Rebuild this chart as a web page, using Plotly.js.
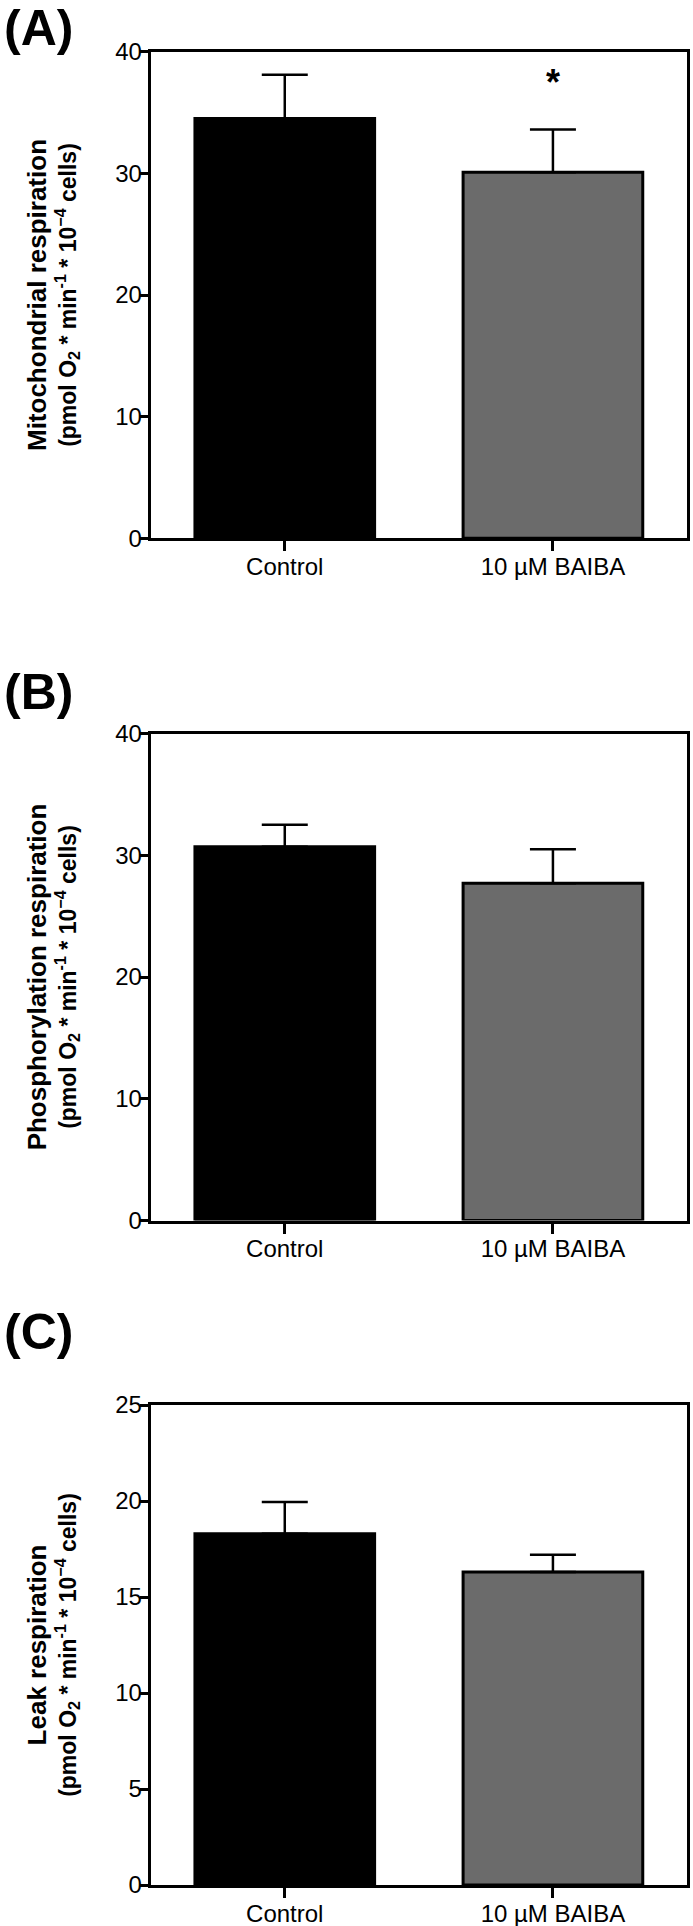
<!DOCTYPE html>
<html>
<head>
<meta charset="utf-8">
<script src="https://cdn.plot.ly/plotly-3.0.1.min.js"></script>
<style>html,body{margin:0;padding:0;background:#fff;}#chart{width:693px;height:1926px;}</style>
</head>
<body>
<div id="chart"></div>
<script>
// ---- data ----
const categories = ['Control', '10 µM BAIBA'];
const mitoMean = [34.5, 30.1];
const mitoSem  = [3.6, 3.5];
const phosMean = [30.7, 27.7];
const phosSem  = [1.8, 2.8];
const leakMean = [18.3, 16.3];
const leakSem  = [1.65, 0.9];
const sigLabel = ['', '*'];
const sigY     = [null, 37.9];
const panelLabels = ['(A)', '(B)', '(C)'];
const yTitlesTop = ['Mitochondrial respiration', 'Phosphorylation respiration', 'Leak respiration'];
const yTitleUnits = '(pmol O<sub>2</sub> * min<sup>-1</sup> * 10<sup>\u22124</sup> cells)';
const yRanges = [[0, 40], [0, 40], [0, 25]];
const yDticks = [10, 10, 5];

// ---- style ----
const FONT = 'Liberation Sans, Arial, Helvetica, sans-serif';
const barColors = ['#000000', '#6b6b6b'];
const W = 693, H = 1926;
const xDom = [150.7 / W, 687 / W];
const yDoms = [
  [1 - 538.3 / H, 1 - 51.7 / H],
  [1 - 1220.5 / H, 1 - 733.5 / H],
  [1 - 1885 / H, 1 - 1405 / H]
];
const labelY = [28, 692, 1332];

const series = [[mitoMean, mitoSem], [phosMean, phosSem], [leakMean, leakSem]];
const traces = series.map((s, i) => ({
  type: 'bar',
  x: categories,
  y: s[0],
  xaxis: i === 0 ? 'x' : 'x' + (i + 1),
  yaxis: i === 0 ? 'y' : 'y' + (i + 1),
  width: 0.67,
  marker: { color: barColors, line: { color: '#000000', width: 3 } },
  error_y: {
    type: 'data', symmetric: false, array: s[1], arrayminus: [0, 0],
    color: '#000000', thickness: 2.5, width: 23
  },
  showlegend: false,
  hoverinfo: 'x+y'
}));

const layout = {
  width: W, height: H,
  margin: { l: 0, r: 0, t: 0, b: 0 },
  paper_bgcolor: '#ffffff', plot_bgcolor: '#ffffff',
  font: { family: FONT, color: '#000000', size: 24 },
  showlegend: false,
  annotations: []
};

for (let i = 0; i < 3; i++) {
  const sfx = i === 0 ? '' : String(i + 1);
  layout['xaxis' + sfx] = {
    domain: xDom, anchor: 'y' + sfx, type: 'category',
    range: [-0.5, 1.5],
    showline: true, linecolor: '#000000', linewidth: 3, mirror: true,
    ticks: 'outside', ticklen: 10, tickwidth: 3, tickcolor: '#000000',
    ticklabelstandoff: -5,
    tickfont: { family: FONT, size: 24, color: '#000000' },
    showgrid: false, zeroline: false, fixedrange: true
  };
  layout['yaxis' + sfx] = {
    domain: yDoms[i], anchor: 'x' + sfx,
    range: yRanges[i], dtick: yDticks[i], tick0: 0,
    showline: true, linecolor: '#000000', linewidth: 3, mirror: true,
    ticks: 'outside', ticklen: 8, tickwidth: 3, tickcolor: '#000000',
    ticklabelstandoff: -7,
    tickfont: { family: FONT, size: 24, color: '#000000' },
    showgrid: false, zeroline: false, fixedrange: true,
    title: {
      text: '<b><span style="font-size:26px">' + yTitlesTop[i] + '</span><br>' + yTitleUnits + '</b>',
      font: { family: FONT, size: 23, color: '#000000' },
      standoff: 33
    }
  };
  layout.annotations.push({
    xref: 'paper', yref: 'paper', x: 2 / W, y: 1 - labelY[i] / H,
    xanchor: 'left', yanchor: 'middle', showarrow: false,
    text: '<b>' + panelLabels[i] + '</b>',
    font: { family: FONT, size: 50, color: '#000000' }
  });
}

categories.forEach((c, j) => {
  if (sigLabel[j]) {
    layout.annotations.push({
      xref: 'x', yref: 'y', x: c, y: sigY[j],
      xanchor: 'center', yanchor: 'middle', showarrow: false, yshift: -5,
      text: '<b>' + sigLabel[j] + '</b>',
      font: { family: FONT, size: 36, color: '#000000' }
    });
  }
});

Plotly.newPlot('chart', traces, layout, { displayModeBar: false, staticPlot: true });
</script>
</body>
</html>
